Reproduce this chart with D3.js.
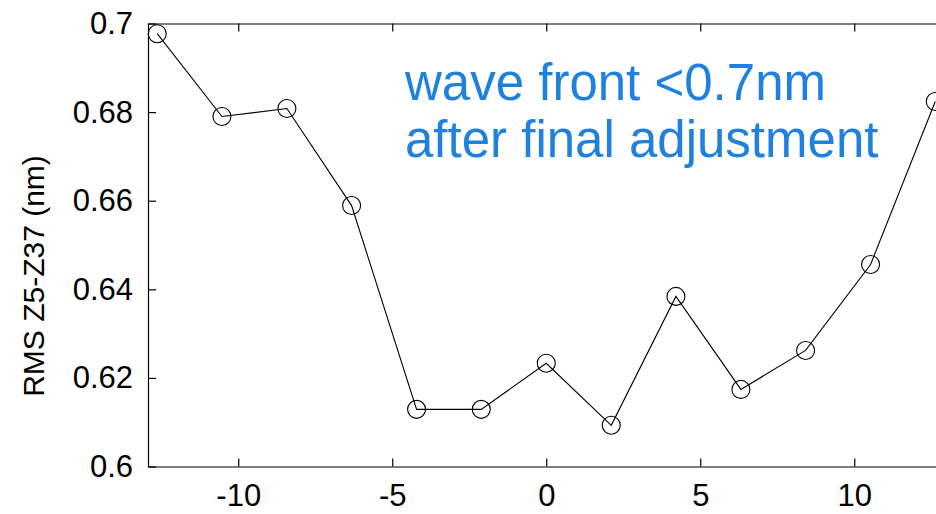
<!DOCTYPE html>
<html>
<head>
<meta charset="utf-8">
<script src="https://cdn.jsdelivr.net/npm/d3@7"></script>
<style>
  html, body { margin: 0; padding: 0; background: #fff; overflow: hidden; }
  svg { display: block; font-family: "Liberation Sans", Arial, Helvetica, sans-serif; }
  .axis path, .axis line { stroke: #000; stroke-width: 1.2; }
  .axis text { font-size: 31px; fill: #000; }
</style>
</head>
<body>
<svg id="chart" width="936" height="514"></svg>
<script>
// --- Data ------------------------------------------------------------------
const positions = [-12.63, -10.53, -8.42, -6.32, -4.21, -2.11, 0, 2.11, 4.21, 6.32, 8.42, 10.53, 12.63];
const rms = [0.6977, 0.6790, 0.6808, 0.6589, 0.6129, 0.6129, 0.6233, 0.6093, 0.6384, 0.6174, 0.6262, 0.6456, 0.6824];
const xTicks = [-10, -5, 0, 5, 10];
const yTicks = [0.6, 0.62, 0.64, 0.66, 0.68, 0.7];
const yLabel = "RMS Z5-Z37 (nm)";
const note = ["wave front <0.7nm", "after final adjustment"];

// --- Layout ----------------------------------------------------------------
const svg = d3.select("#chart");
const plotL = 148, plotR = 944.5, plotT = 23.5, plotB = 466.5;

const x = d3.scaleLinear().domain([-12.93, 12.93]).range([plotL, plotR]);
const y = d3.scaleLinear().domain([0.6, 0.7]).range([plotB, plotT]);

// axes (ticks point inward, box closed on all sides)
svg.append("g").attr("class", "axis")
  .attr("transform", `translate(0,${plotB})`)
  .call(d3.axisBottom(x).tickValues(xTicks).tickSize(-8).tickSizeOuter(0).tickPadding(17).tickFormat(d => d < 0 ? "-" + Math.abs(d) : d));

svg.append("g").attr("class", "axis")
  .attr("transform", `translate(0,${plotT})`)
  .call(d3.axisTop(x).tickValues(xTicks).tickSize(-8).tickSizeOuter(0).tickFormat(""));

svg.append("g").attr("class", "axis")
  .attr("transform", `translate(${plotL},0)`)
  .call(d3.axisLeft(y).tickValues(yTicks).tickSize(-8).tickSizeOuter(0).tickPadding(15).tickFormat(d => String(+d.toFixed(2))));

svg.append("g").attr("class", "axis")
  .attr("transform", `translate(${plotR},0)`)
  .call(d3.axisRight(y).tickValues(yTicks).tickSize(-8).tickSizeOuter(0).tickFormat(""));

svg.selectAll(".axis .domain").attr("fill", "none");

// y label
svg.append("text")
  .attr("transform", `translate(44,276) rotate(-90)`)
  .attr("text-anchor", "middle")
  .attr("font-size", 30)
  .attr("fill", "#000")
  .text(yLabel);

// --- Series ----------------------------------------------------------------
const pts = positions.map((p, i) => ({ p, v: rms[i] }));

svg.append("path")
  .datum(pts)
  .attr("fill", "none")
  .attr("stroke", "#000")
  .attr("stroke-width", 1.1)
  .attr("d", d3.line().x(d => x(d.p)).y(d => y(d.v)));

svg.append("g").selectAll("circle")
  .data(pts).enter()
  .append("circle")
  .attr("cx", d => x(d.p))
  .attr("cy", d => y(d.v))
  .attr("r", 9)
  .attr("fill", "none")
  .attr("stroke", "#000")
  .attr("stroke-width", 1.1);

// --- Annotation ------------------------------------------------------------
svg.append("g").selectAll("text")
  .data(note).enter()
  .append("text")
  .attr("x", 405)
  .attr("y", (d, i) => 100 + i * 57)
  .attr("font-size", 51)
  .attr("fill", "#1f80de")
  .text(d => d);
</script>
</body>
</html>
